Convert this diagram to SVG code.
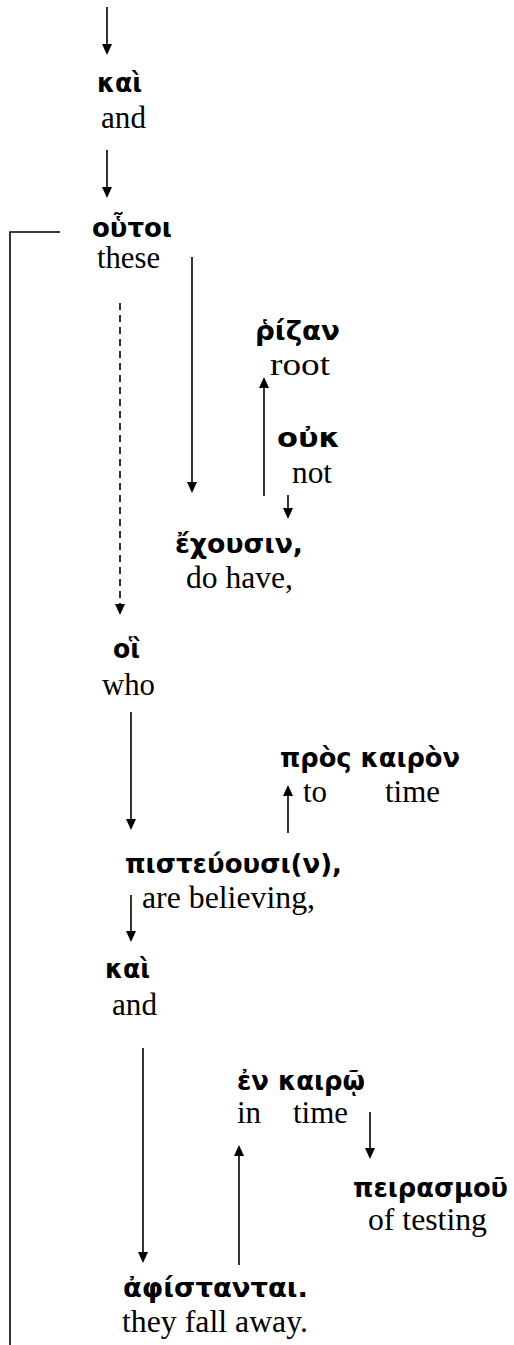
<svg xmlns="http://www.w3.org/2000/svg" width="514" height="1345" viewBox="0 0 514 1345">
<style>
.g{font-family:"DejaVu Sans","Noto Sans",sans-serif;font-weight:bold;font-size:26px;fill:#000}
.e{font-family:"Liberation Serif","Times New Roman",serif;font-size:31px;fill:#000}
.c{stroke:#000;stroke-width:1.6;fill:none}
.d{stroke-dasharray:7 5}
</style>
<defs>
<marker id="ah" markerUnits="userSpaceOnUse" markerWidth="11" markerHeight="10" refX="5" refY="5" orient="auto" viewBox="0 0 11 10">
<path d="M0,0 L11,5 L0,10 z" fill="#000"/>
</marker>
</defs>
<g id="connectors">
<line class="c" x1="107" y1="7" x2="107" y2="49" marker-end="url(#ah)"/>
<line class="c" x1="107" y1="150" x2="107" y2="192" marker-end="url(#ah)"/>
<path class="c" d="M60,232 H10 V1345"/>
<line class="c" x1="192" y1="257" x2="192" y2="487" marker-end="url(#ah)"/>
<line class="c d" x1="120" y1="303" x2="120" y2="609" marker-end="url(#ah)"/>
<line class="c" x1="264" y1="496" x2="264" y2="383" marker-end="url(#ah)"/>
<line class="c" x1="288" y1="495" x2="288" y2="513" marker-end="url(#ah)"/>
<line class="c" x1="131" y1="712" x2="131" y2="824" marker-end="url(#ah)"/>
<line class="c" x1="288" y1="833" x2="288" y2="791" marker-end="url(#ah)"/>
<line class="c" x1="131" y1="895" x2="131" y2="936" marker-end="url(#ah)"/>
<line class="c" x1="143" y1="1048" x2="143" y2="1257" marker-end="url(#ah)"/>
<line class="c" x1="239" y1="1265" x2="239" y2="1151" marker-end="url(#ah)"/>
<line class="c" x1="370" y1="1112" x2="370" y2="1153" marker-end="url(#ah)"/>
</g>
<g id="kai1"><text class="g" x="97" y="92" textLength="45" lengthAdjust="spacingAndGlyphs">καὶ</text><text class="e" x="101" y="128" textLength="45" lengthAdjust="spacingAndGlyphs">and</text></g>
<g id="houtoi"><text class="g" x="92" y="237" textLength="80" lengthAdjust="spacingAndGlyphs">οὗτοι</text><text class="e" x="97" y="268" textLength="63" lengthAdjust="spacingAndGlyphs">these</text></g>
<g id="rhizan"><text class="g" x="255" y="340" textLength="85" lengthAdjust="spacingAndGlyphs">ῥίζαν</text><text class="e" x="270" y="375" textLength="60" lengthAdjust="spacingAndGlyphs">root</text></g>
<g id="ouk"><text class="g" x="277" y="447" textLength="63" lengthAdjust="spacingAndGlyphs">οὐκ</text><text class="e" x="292" y="483" textLength="40" lengthAdjust="spacingAndGlyphs">not</text></g>
<g id="echousin"><text class="g" x="175" y="553" textLength="128" lengthAdjust="spacingAndGlyphs">ἔχουσιν,</text><text class="e" x="186" y="588" textLength="107" lengthAdjust="spacingAndGlyphs">do have,</text></g>
<g id="hoi"><text class="g" x="113" y="658" textLength="27" lengthAdjust="spacingAndGlyphs">οἳ</text><text class="e" x="102" y="695" textLength="53" lengthAdjust="spacingAndGlyphs">who</text></g>
<g id="proskairon"><text class="g" x="280" y="767" textLength="180" lengthAdjust="spacingAndGlyphs">πρὸς καιρὸν</text><text class="e" x="303" y="802">to</text><text class="e" x="385" y="802" textLength="55" lengthAdjust="spacingAndGlyphs">time</text></g>
<g id="pisteuousin"><text class="g" x="125" y="873" textLength="217" lengthAdjust="spacingAndGlyphs">πιστεύουσι(ν),</text><text class="e" x="142" y="908" textLength="173" lengthAdjust="spacingAndGlyphs">are believing,</text></g>
<g id="kai2"><text class="g" x="105" y="978" textLength="45" lengthAdjust="spacingAndGlyphs">καὶ</text><text class="e" x="112" y="1015" textLength="45" lengthAdjust="spacingAndGlyphs">and</text></g>
<g id="enkairo"><text class="g" x="237" y="1090" textLength="128" lengthAdjust="spacingAndGlyphs">ἐν καιρῷ</text><text class="e" x="237" y="1123">in</text><text class="e" x="293" y="1123" textLength="55" lengthAdjust="spacingAndGlyphs">time</text></g>
<g id="peirasmou"><text class="g" x="353" y="1197" textLength="155" lengthAdjust="spacingAndGlyphs">πειρασμοῦ</text><text class="e" x="368" y="1230" textLength="119" lengthAdjust="spacingAndGlyphs">of testing</text></g>
<g id="aphistantai"><text class="g" x="123" y="1297" textLength="185" lengthAdjust="spacingAndGlyphs">ἀφίστανται.</text><text class="e" x="122" y="1332" textLength="186" lengthAdjust="spacingAndGlyphs">they fall away.</text></g>
</svg>
